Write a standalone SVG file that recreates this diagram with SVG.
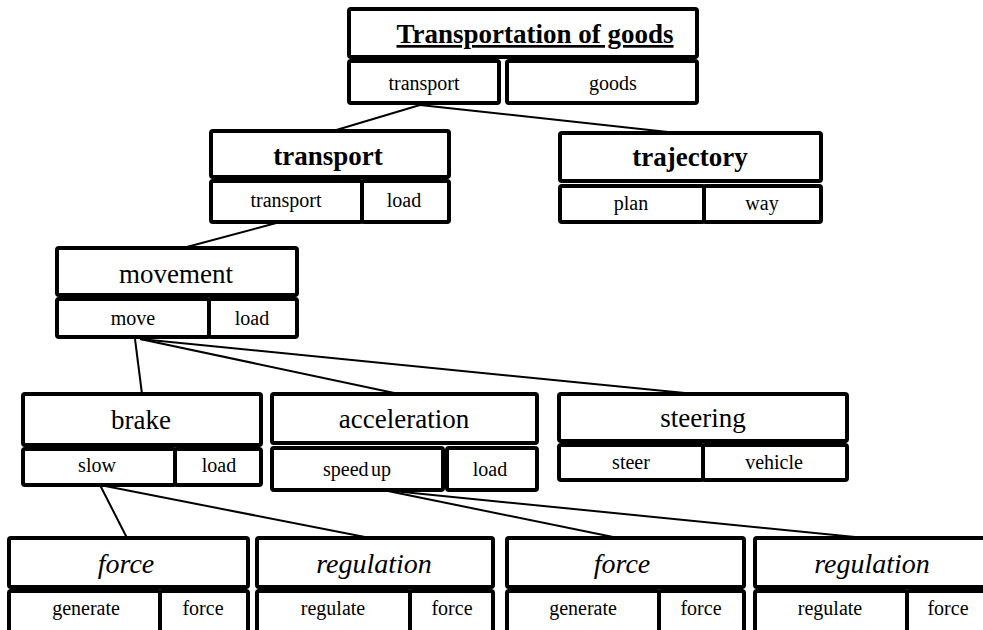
<svg xmlns="http://www.w3.org/2000/svg" width="983" height="630" viewBox="0 0 983 630">
<style>
.b{fill:#fff;stroke:#000;stroke-width:4;}
.c{stroke:#000;stroke-width:2;fill:none;}
text{font-family:"Liberation Serif","Times New Roman",serif;fill:#000;text-anchor:middle;}
.h{font-size:27px;}
.hb{font-size:27px;font-weight:bold;}
.hi{font-size:28px;font-style:italic;}
.t{font-size:20px;}
</style>
<rect width="983" height="630" fill="#fff"/>
<g id="connectors">
<line class="c" x1="420" y1="105" x2="333" y2="131"/>
<line class="c" x1="420" y1="105" x2="677" y2="133"/>
<line class="c" x1="280" y1="222" x2="183" y2="248"/>
<line class="c" x1="135" y1="339" x2="142" y2="394"/>
<line class="c" x1="140" y1="339" x2="399" y2="394"/>
<line class="c" x1="140" y1="339" x2="695" y2="394"/>
<line class="c" x1="100" y1="485" x2="127" y2="538"/>
<line class="c" x1="100" y1="485" x2="370" y2="538"/>
<line class="c" x1="383" y1="490" x2="618" y2="538"/>
<line class="c" x1="383" y1="490" x2="865" y2="538"/>
</g>
<g id="node-transportation">
<rect class="b" x="349" y="9" width="348" height="48" rx="2"/>
<rect class="b" x="349" y="61" width="150" height="42" rx="2"/>
<rect class="b" x="507" y="61" width="190" height="42" rx="2"/>
<text class="hb" x="535" y="43" text-decoration="underline" font-size="26.5">Transportation of goods</text>
<text class="t" x="424" y="90">transport</text>
<text class="t" x="613" y="90">goods</text>
</g>
<g id="node-transport">
<rect class="b" x="211" y="131" width="238" height="46" rx="2"/>
<rect class="b" x="211" y="181" width="151" height="41" rx="2"/>
<rect class="b" x="362" y="181" width="87" height="41" rx="2"/>
<text class="hb" x="328" y="165">transport</text>
<text class="t" x="286" y="207">transport</text>
<text class="t" x="404" y="207">load</text>
</g>
<g id="node-trajectory">
<rect class="b" x="560" y="133" width="261" height="48" rx="2"/>
<rect class="b" x="560" y="186" width="144" height="36" rx="2"/>
<rect class="b" x="704" y="186" width="117" height="36" rx="2"/>
<text class="hb" x="690" y="166">trajectory</text>
<text class="t" x="631" y="210">plan</text>
<text class="t" x="762" y="210">way</text>
</g>
<g id="node-movement">
<rect class="b" x="57" y="248" width="240" height="47" rx="2"/>
<rect class="b" x="57" y="299" width="152" height="38" rx="2"/>
<rect class="b" x="209" y="299" width="88" height="38" rx="2"/>
<text class="h" x="176" y="283">movement</text>
<text class="t" x="133" y="325">move</text>
<text class="t" x="252" y="325">load</text>
</g>
<g id="node-brake">
<rect class="b" x="23" y="394" width="238" height="51" rx="2"/>
<rect class="b" x="23" y="449" width="152" height="36" rx="2"/>
<rect class="b" x="175" y="449" width="86" height="36" rx="2"/>
<text class="h" x="141" y="429">brake</text>
<text class="t" x="97" y="472">slow</text>
<text class="t" x="219" y="472">load</text>
</g>
<g id="node-acceleration">
<rect class="b" x="272" y="394" width="265" height="49" rx="2"/>
<rect class="b" x="272" y="448" width="171" height="42" rx="2"/>
<rect class="b" x="447" y="448" width="90" height="42" rx="2"/>
<text class="h" x="404" y="428">acceleration</text>
<text class="t" x="357" y="476" word-spacing="-2.5">speed up</text>
<text class="t" x="490" y="476">load</text>
</g>
<g id="node-steering">
<rect class="b" x="559" y="394" width="288" height="47" rx="2"/>
<rect class="b" x="559" y="445" width="144" height="35" rx="2"/>
<rect class="b" x="703" y="445" width="144" height="35" rx="2"/>
<text class="h" x="703" y="427">steering</text>
<text class="t" x="631" y="469">steer</text>
<text class="t" x="774" y="469">vehicle</text>
</g>
<g id="node-force1">
<rect class="b" x="9" y="538" width="239" height="49" rx="2"/>
<rect class="b" x="9" y="591" width="151" height="44" rx="2"/>
<rect class="b" x="160" y="591" width="88" height="44" rx="2"/>
<text class="hi" x="126" y="573">force</text>
<text class="t" x="86" y="615">generate</text>
<text class="t" x="203" y="615">force</text>
</g>
<g id="node-regulation1">
<rect class="b" x="257" y="538" width="236" height="49" rx="2"/>
<rect class="b" x="257" y="591" width="153" height="44" rx="2"/>
<rect class="b" x="410" y="591" width="83" height="44" rx="2"/>
<text class="hi" x="374" y="573">regulation</text>
<text class="t" x="333" y="615">regulate</text>
<text class="t" x="452" y="615">force</text>
</g>
<g id="node-force2">
<rect class="b" x="507" y="538" width="237" height="49" rx="2"/>
<rect class="b" x="507" y="591" width="152" height="44" rx="2"/>
<rect class="b" x="659" y="591" width="85" height="44" rx="2"/>
<text class="hi" x="622" y="573">force</text>
<text class="t" x="583" y="615">generate</text>
<text class="t" x="701" y="615">force</text>
</g>
<g id="node-regulation2">
<rect class="b" x="755" y="538" width="237" height="49" rx="2"/>
<rect class="b" x="755" y="591" width="152" height="44" rx="2"/>
<rect class="b" x="907" y="591" width="85" height="44" rx="2"/>
<text class="hi" x="872" y="573">regulation</text>
<text class="t" x="830" y="615">regulate</text>
<text class="t" x="948" y="615">force</text>
</g>
</svg>
